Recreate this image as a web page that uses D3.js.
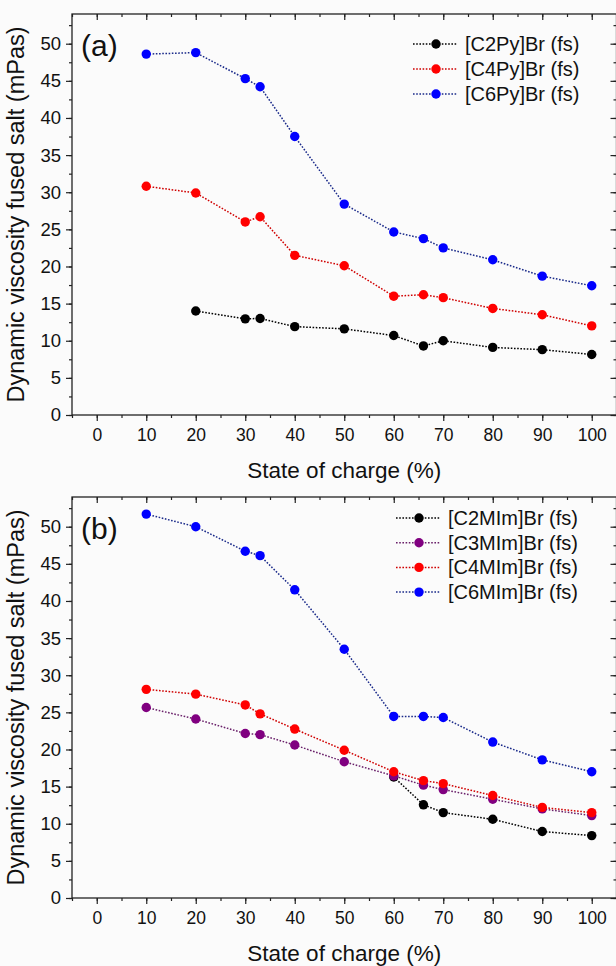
<!DOCTYPE html>
<html>
<head>
<meta charset="utf-8">
<script src="https://cdn.jsdelivr.net/npm/d3@7"></script>
<style>
  body { margin: 0; background: #fbfbfb; }
  svg { display: block; font-family: "Liberation Sans", Arial, sans-serif; }
</style>
</head>
<body>
<svg id="chart" width="616" height="966"></svg>
<script>
// State of charge (%) shared by all series
const soc = [10, 20, 30, 33, 40, 50, 60, 66, 70, 80, 90, 100];

// panel (a) – pyridinium salts
const c2py = [null, 14.0, 12.95, 13.0, 11.9, 11.6, 10.7, 9.3, 10.0, 9.1, 8.8, 8.15];
const c4py = [30.8, 29.9, 26.0, 26.7, 21.5, 20.1, 16.0, 16.2, 15.8, 14.35, 13.5, 12.0];
const c6py = [48.6, 48.8, 45.3, 44.2, 37.5, 28.4, 24.65, 23.75, 22.5, 20.9, 18.7, 17.4];

// panel (b) – imidazolium salts
const c2mim = [null, null, null, null, null, null, 16.3, 12.55, 11.5, 10.6, 8.95, 8.4];
const c3mim = [25.65, 24.1, 22.15, 22.0, 20.6, 18.35, 16.45, 15.2, 14.6, 13.3, 12.0, 11.1];
const c4mim = [28.1, 27.45, 26.0, 24.8, 22.75, 19.9, 17.0, 15.8, 15.4, 13.8, 12.2, 11.5];
const c6mim = [51.7, 50.0, 46.7, 46.1, 41.5, 33.5, 24.45, 24.45, 24.3, 21.0, 18.6, 17.0];

const xTicks = [0, 10, 20, 30, 40, 50, 60, 70, 80, 90, 100];
const yTicks = [0, 5, 10, 15, 20, 25, 30, 35, 40, 45, 50];

const panels = [
  {
    label: "(a)", top: 14, bottom: 415,
    series: [
      { name: "[C2Py]Br (fs)", color: "#000000", line: "#000000", values: c2py },
      { name: "[C4Py]Br (fs)", color: "#ff0000", line: "#d00000", values: c4py },
      { name: "[C6Py]Br (fs)", color: "#0000ff", line: "#1a2a8a", values: c6py }
    ],
    legendX: 413, legendY: 44, gap: 25
  },
  {
    label: "(b)", top: 497, bottom: 898,
    series: [
      { name: "[C2MIm]Br (fs)", color: "#000000", line: "#000000", values: c2mim },
      { name: "[C3MIm]Br (fs)", color: "#800080", line: "#6a206a", values: c3mim },
      { name: "[C4MIm]Br (fs)", color: "#ff0000", line: "#d00000", values: c4mim },
      { name: "[C6MIm]Br (fs)", color: "#0000ff", line: "#1a2a8a", values: c6mim }
    ],
    legendX: 396, legendY: 518, gap: 24.7
  }
];

const svg = d3.select("#chart");
const left = 72, right = 616.5;

const x = d3.scaleLinear().domain([-5, 105]).range([left, right]);

panels.forEach(p => {
  const y = d3.scaleLinear().domain([0, 54]).range([p.bottom, p.top]);
  const g = svg.append("g");

  // frame
  g.append("rect")
    .attr("x", left).attr("y", p.top)
    .attr("width", right - left).attr("height", p.bottom - p.top)
    .attr("fill", "none").attr("stroke", "#222").attr("stroke-width", 1.3);

  // bottom axis
  const xMinor = d3.range(-5, 106, 5);
  g.append("g").attr("transform", `translate(0,${p.bottom})`)
    .call(d3.axisBottom(x).tickValues(xMinor).tickSize(3).tickFormat(""))
    .call(a => a.select(".domain").remove());
  g.append("g").attr("transform", `translate(0,${p.bottom})`)
    .call(d3.axisBottom(x).tickValues(xTicks).tickSize(6).tickPadding(8))
    .call(a => a.select(".domain").remove())
    .call(a => a.selectAll("text").attr("font-size", 17.5).attr("fill", "#111"));
  // top mirror ticks (inward)
  g.append("g").attr("transform", `translate(0,${p.top})`)
    .call(d3.axisBottom(x).tickValues(xMinor).tickSize(3).tickFormat(""))
    .call(a => a.select(".domain").remove());
  g.append("g").attr("transform", `translate(0,${p.top})`)
    .call(d3.axisBottom(x).tickValues(xTicks).tickSize(6).tickFormat(""))
    .call(a => a.select(".domain").remove());

  // left axis
  const yMinor = d3.range(0, 54, 2.5);
  g.append("g").attr("transform", `translate(${left},0)`)
    .call(d3.axisLeft(y).tickValues(yMinor).tickSize(3).tickFormat(""))
    .call(a => a.select(".domain").remove());
  g.append("g").attr("transform", `translate(${left},0)`)
    .call(d3.axisLeft(y).tickValues(yTicks).tickSize(6).tickPadding(5))
    .call(a => a.select(".domain").remove())
    .call(a => a.selectAll("text").attr("font-size", 18.5).attr("fill", "#111"));
  // right mirror ticks (inward)
  g.append("g").attr("transform", `translate(${right},0)`)
    .call(d3.axisLeft(y).tickValues(yMinor).tickSize(3).tickFormat(""))
    .call(a => a.select(".domain").remove());
  g.append("g").attr("transform", `translate(${right},0)`)
    .call(d3.axisLeft(y).tickValues(yTicks).tickSize(6).tickFormat(""))
    .call(a => a.select(".domain").remove());

  g.selectAll(".tick line").attr("stroke", "#222").attr("stroke-width", 1.2);

  // axis titles
  g.append("text")
    .attr("x", (left + right) / 2).attr("y", p.bottom + 63)
    .attr("text-anchor", "middle").attr("font-size", 22.5).attr("fill", "#111")
    .text("State of charge (%)");
  g.append("text")
    .attr("transform", `translate(24,${(p.top + p.bottom) / 2}) rotate(-90)`)
    .attr("text-anchor", "middle").attr("font-size", 23.5).attr("fill", "#111")
    .text("Dynamic viscosity fused salt (mPas)");

  // panel label
  g.append("text")
    .attr("x", left + 9).attr("y", p.top + 42)
    .attr("font-size", 30).attr("fill", "#111")
    .text(p.label);

  // series
  const line = d3.line()
    .defined(d => d.v != null)
    .x(d => x(d.s)).y(d => y(d.v));

  p.series.forEach(s => {
    const pts = soc.map((s0, i) => ({ s: s0, v: s.values[i] }));
    g.append("path")
      .datum(pts)
      .attr("d", line)
      .attr("fill", "none")
      .attr("stroke", s.line)
      .attr("stroke-width", 1.5)
      .attr("stroke-dasharray", "1.6,1.6");
    g.selectAll(null)
      .data(pts.filter(d => d.v != null))
      .join("circle")
      .attr("cx", d => x(d.s)).attr("cy", d => y(d.v))
      .attr("r", 4.7)
      .attr("fill", s.color);
  });

  // legend
  const lg = g.append("g").attr("transform", `translate(${p.legendX},${p.legendY})`);
  p.series.forEach((s, i) => {
    const row = lg.append("g").attr("transform", `translate(0,${i * p.gap})`);
    row.append("line")
      .attr("x1", 0).attr("x2", 44).attr("y1", 0).attr("y2", 0)
      .attr("stroke", s.line).attr("stroke-width", 1.5)
      .attr("stroke-dasharray", "1.6,1.6");
    row.append("circle").attr("cx", 23).attr("cy", 0).attr("r", 4.7).attr("fill", s.color);
    row.append("text")
      .attr("x", 52).attr("y", 7)
      .attr("font-size", 20).attr("fill", "#111")
      .text(s.name);
  });
});
</script>
</body>
</html>
